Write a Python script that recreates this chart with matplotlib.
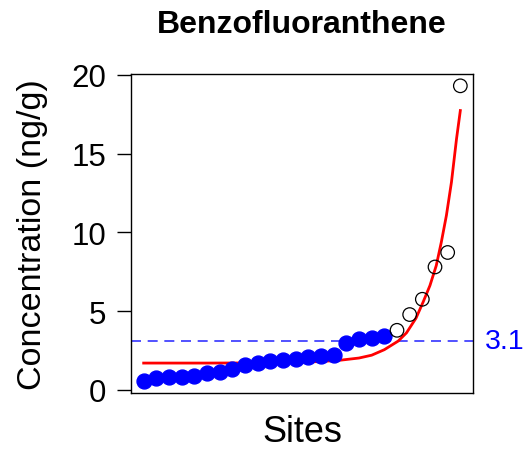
import matplotlib
matplotlib.use("Agg")
import matplotlib.pyplot as plt
import numpy as np

plt.rcParams['font.family'] = ['Liberation Sans', 'DejaVu Sans']

# sorted site concentrations (ng/g)
conc = [0.55, 0.75, 0.80, 0.82, 0.90, 1.10, 1.15, 1.35, 1.60, 1.72,
        1.82, 1.88, 1.95, 2.08, 2.18, 2.22, 2.95, 3.22, 3.32, 3.40,
        3.78, 4.78, 5.75, 7.80, 8.72, 19.3]
threshold = 3.1

# fitted curve
fit_x = [1.0, 6.0, 10.0, 13.0, 15.0, 16.5, 18.0, 19.0, 20.0, 21.1,
         21.75, 22.5, 23.06, 23.6, 24.1, 24.5, 24.9, 25.3, 25.7, 26.0]
fit_y = [1.70, 1.70, 1.71, 1.74, 1.80, 1.88, 2.02, 2.20, 2.55, 3.10,
         3.62, 4.55, 5.57, 6.62, 7.89, 9.38, 11.07, 13.19, 15.94, 17.73]

conc = np.array(conc)
sites = np.arange(1, len(conc) + 1)
low = conc <= 3.5

fig = plt.figure(figsize=(5.28, 4.56), dpi=100)
ax = fig.add_axes([131 / 528, 1 - 394 / 456, 342 / 528, 319 / 456])

ax.plot(fit_x, fit_y, color='red', lw=2.0, zorder=2)
ax.scatter(sites[low], conc[low], s=115, color='blue', edgecolors='blue', zorder=3)
ax.scatter(sites[~low], conc[~low], s=95, facecolors='none', edgecolors='black',
           linewidths=0.9, zorder=3)
ax.axhline(threshold, color='#3333ff', lw=1.2, linestyle=(0, (6, 4)), zorder=1)
ax.text(1.035, threshold, '3.1', transform=ax.get_yaxis_transform(),
        color='blue', fontsize=20.5, va='center', ha='left')

r = conc.max() - conc.min()
ax.set_xlim(0, 27)
ax.set_ylim(conc.min() - 0.04 * r, conc.max() + 0.04 * r)
ax.set_xticks([])
ax.set_yticks([0, 5, 10, 15, 20])
ax.tick_params(axis='y', length=10, width=1, labelsize=22.5, pad=8)
for s in ax.spines.values():
    s.set_linewidth(1.0)

ax.set_xlabel('Sites', fontsize=26, labelpad=15)
ax.set_ylabel('Concentration (ng/g)', fontsize=24.5, labelpad=17)
ax.set_title('Benzofluoranthene', fontsize=23, fontweight='bold', pad=30)

fig.savefig('out.png', dpi=100)
